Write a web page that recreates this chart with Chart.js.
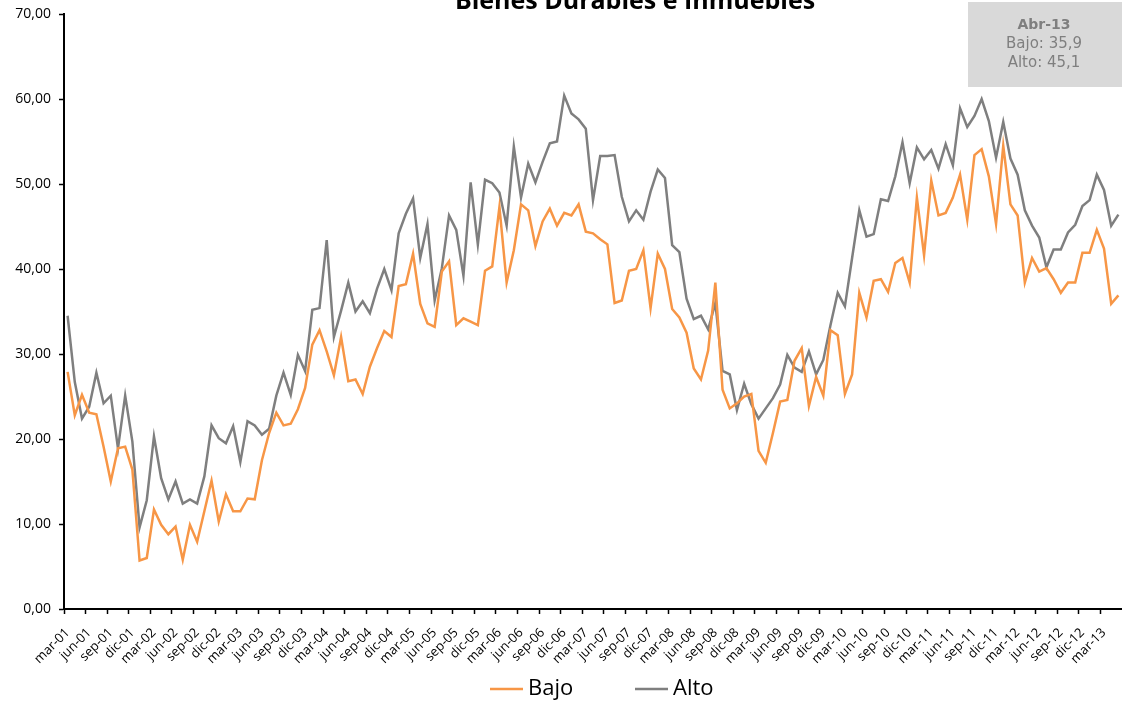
<!DOCTYPE html>
<html>
<head>
<meta charset="utf-8">
<title>Bienes Durables e Inmuebles</title>
<script src="https://cdn.jsdelivr.net/npm/chart.js@4.4.0/dist/chart.umd.min.js"></script>
<style>
  html, body { margin: 0; padding: 0; background: #fff; }
  #wrap { position: relative; width: 1122px; height: 708px; }
</style>
</head>
<body>
<div id="wrap"><canvas id="indiceChart" width="1122" height="708"></canvas></div>
<script>
// meses desde mar-01 hasta may-13
const mesesCortos = ['ene', 'feb', 'mar', 'abr', 'may', 'jun', 'jul', 'ago', 'sep', 'oct', 'nov', 'dic'];
const meses = [];
for (let y = 2001, m = 2; meses.length < 147; m++) {
    if (m === 12) { m = 0; y++; }
    meses.push(mesesCortos[m] + '-' + String(y).slice(2));
}

const bajo = [
    27.9, 22.8, 25.2, 23.1, 22.9, 19.1, 15.0, 18.9, 19.1, 16.4,
    5.7, 6.0, 11.7, 9.9, 8.8, 9.7, 5.8, 9.9, 7.9, 11.5,
    15.1, 10.3, 13.5, 11.5, 11.5, 13.0, 12.9, 17.5, 20.7, 23.1,
    21.6, 21.8, 23.5, 26.0, 31.1, 32.8, 30.3, 27.5, 32.0, 26.8,
    27.0, 25.3, 28.5, 30.7, 32.7, 32.0, 38.0, 38.2, 41.8, 35.9,
    33.6, 33.2, 39.7, 40.9, 33.4, 34.2, 33.8, 33.4, 39.8, 40.3,
    47.3, 38.4, 42.2, 47.6, 46.9, 42.7, 45.6, 47.1, 45.1, 46.6,
    46.3, 47.6, 44.4, 44.2, 43.5, 42.9, 36.0, 36.3, 39.8, 40.0,
    42.2, 35.4, 41.8, 40.0, 35.3, 34.3, 32.5, 28.3, 27.0, 30.4,
    38.4, 25.8, 23.6, 24.2, 25.0, 25.3, 18.6, 17.2, 20.7, 24.4,
    24.6, 29.2, 30.7, 23.9, 27.3, 25.1, 32.8, 32.2, 25.3, 27.6,
    37.2, 34.3, 38.6, 38.8, 37.3, 40.7, 41.3, 38.4, 48.4, 41.6,
    50.4, 46.3, 46.6, 48.4, 51.1, 45.8, 53.4, 54.1, 50.9, 45.3,
    54.5, 47.6, 46.3, 38.4, 41.3, 39.7, 40.1, 38.8, 37.2, 38.4,
    38.4, 41.9, 41.9, 44.6, 42.4, 35.9, 36.9
];

const alto = [
    34.5, 26.7, 22.4, 23.8, 27.8, 24.2, 25.1, 18.9, 25.1, 19.7,
    9.6, 12.8, 20.3, 15.4, 12.9, 15.0, 12.4, 12.9, 12.4, 15.6,
    21.6, 20.1, 19.5, 21.5, 17.3, 22.1, 21.6, 20.5, 21.2, 25.1,
    27.8, 25.2, 29.9, 28.0, 35.2, 35.4, 43.4, 32.0, 35.1, 38.4,
    35.0, 36.2, 34.8, 37.7, 40.0, 37.5, 44.2, 46.5, 48.3, 41.3,
    45.3, 36.3, 40.1, 46.3, 44.6, 39.2, 50.2, 42.9, 50.5, 50.1,
    49.0, 45.1, 54.4, 48.4, 52.4, 50.2, 52.6, 54.8, 55.0, 60.4,
    58.3, 57.6, 56.5, 48.1, 53.3, 53.3, 53.4, 48.5, 45.6, 46.9,
    45.8, 49.1, 51.7, 50.7, 42.8, 42.0, 36.5, 34.1, 34.5, 32.9,
    36.0, 28.0, 27.6, 23.4, 26.5, 24.1, 22.4, 23.6, 24.8, 26.4,
    29.9, 28.4, 27.9, 30.3, 27.6, 29.3, 33.4, 37.2, 35.6, 41.3,
    46.9, 43.8, 44.1, 48.2, 48.0, 50.9, 54.9, 50.1, 54.3, 52.9,
    54.0, 51.8, 54.7, 52.2, 58.9, 56.7, 58.0, 60.0, 57.4, 53.1,
    57.3, 53.0, 51.1, 46.9, 45.1, 43.7, 40.2, 42.3, 42.3, 44.3,
    45.2, 47.4, 48.1, 51.1, 49.3, 45.1, 46.4
];

const yTicks = [0, 10, 20, 30, 40, 50, 60, 70];
const ultimo = { mes: 'Abr-13', bajo: '35,9', alto: '45,1' };

const fmt = v => v.toFixed(2).replace('.', ',');

// titulo, cuadro del ultimo dato y leyenda dibujados a mano
const textoExtra = {
    id: 'textoExtra',
    afterDraw(chart) {
        const ctx = chart.ctx;
        ctx.save();
        ctx.fillStyle = '#000';
        ctx.font = 'bold 25px "Open Sans"';
        ctx.textAlign = 'center';
        ctx.textBaseline = 'alphabetic';
        ctx.fillText('Bienes Durables e Inmuebles', 635, 9);

        ctx.fillStyle = '#d9d9d9';
        ctx.fillRect(968, 2, 154, 85);
        ctx.fillStyle = '#7f7f7f';
        ctx.textBaseline = 'middle';
        ctx.font = 'bold 14px "DejaVu Sans"';
        ctx.fillText(ultimo.mes, 1044, 25);
        ctx.font = '15px "DejaVu Sans"';
        ctx.fillText('Bajo: ' + ultimo.bajo, 1044, 44);
        ctx.fillText('Alto: ' + ultimo.alto, 1044, 63);

        // leyenda
        const posLeyenda = [490, 635];
        ctx.textAlign = 'left';
        ctx.font = '22px "Open Sans"';
        chart.data.datasets.forEach((ds, i) => {
            const x = posLeyenda[i];
            ctx.strokeStyle = ds.borderColor;
            ctx.lineWidth = 2.5;
            ctx.beginPath();
            ctx.moveTo(x, 689);
            ctx.lineTo(x + 33, 689);
            ctx.stroke();
            ctx.fillStyle = '#000';
            ctx.fillText(ds.label, x + 38, 689);
        });
        ctx.restore();
    }
};

const ctx = document.getElementById('indiceChart').getContext('2d');
const indiceChart = new Chart(ctx, {
    type: 'line',
    data: {
        labels: meses,
        datasets: [{
            label: 'Bajo',
            data: bajo,
            borderColor: '#f79646',
            backgroundColor: '#f79646',
            borderWidth: 2.5,
            pointRadius: 0,
            tension: 0
        }, {
            label: 'Alto',
            data: alto,
            borderColor: '#7f7f7f',
            backgroundColor: '#7f7f7f',
            borderWidth: 2.5,
            pointRadius: 0,
            tension: 0
        }]
    },
    options: {
        responsive: false,
        animation: false,
        layout: { padding: { top: 14, right: 0, left: 0, bottom: 0 } },
        plugins: {
            legend: { display: false },
            tooltip: { enabled: false }
        },
        scales: {
            x: {
                offset: true,
                afterFit: s => { s.height = 99; s.paddingLeft = 0; s.paddingRight = 0; },
                border: { color: '#000', width: 2 },
                grid: {
                    offset: true,
                    drawOnChartArea: false,
                    tickLength: 5,
                    tickWidth: 1.5,
                    tickColor: c => (c.index % 3 === 0 ? '#000' : 'rgba(0,0,0,0)')
                },
                ticks: {
                    autoSkip: false,
                    minRotation: 45,
                    maxRotation: 45,
                    padding: 11,
                    color: '#000',
                    font: { size: 13, family: '"Open Sans"' },
                    callback: function (v, i) { return i % 3 === 0 ? this.getLabelForValue(v) : ''; }
                }
            },
            y: {
                min: 0,
                max: 70,
                afterFit: s => { s.width = 64; s.paddingTop = 0; s.paddingBottom = 0; },
                afterBuildTicks: s => { s.ticks = yTicks.map(v => ({ value: v })); },
                border: { color: '#000', width: 2 },
                grid: {
                    drawOnChartArea: false,
                    tickLength: 5,
                    tickWidth: 1.5,
                    tickColor: '#000'
                },
                ticks: {
                    padding: 8,
                    color: '#000',
                    font: { size: 14, family: '"Open Sans"' },
                    callback: v => fmt(v)
                }
            }
        }
    },
    plugins: [textoExtra]
});
</script>
</body>
</html>
